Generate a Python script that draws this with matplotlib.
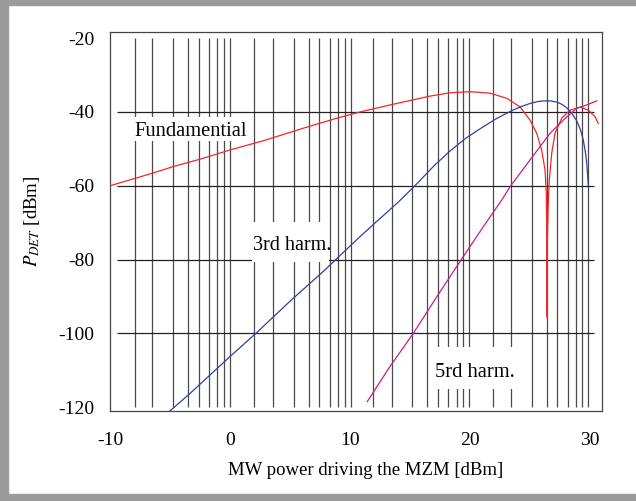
import matplotlib
matplotlib.use("Agg")
import matplotlib.pyplot as plt
from matplotlib.patches import Rectangle

plt.rcParams['font.family'] = ['Liberation Serif', 'DejaVu Serif']
plt.rcParams['mathtext.fontset'] = 'stix'

# MW drive power [dBm] and detected power [dBm] for each curve
fund_x = [-10.0, -6.67, -4.73, -2.5, 0.0, 2.78, 6.11, 8.89, 10.83, 13.33, 16.67,
          18.33, 20.0, 21.67, 23.06, 24.17, 25.0, 25.56, 25.97, 26.25, 26.36,
          26.40, 26.42, 26.45, 26.52, 26.61, 26.81, 27.08, 27.64, 28.33, 29.17,
          29.86, 30.42, 30.69]
fund_y = [-60.0, -56.8, -54.8, -52.8, -50.3, -47.8, -44.4, -41.7, -40.0, -38.1, -35.7,
          -34.8, -34.5, -34.9, -36.3, -38.6, -42.2, -45.8, -50.3, -55.7, -62.0,
          -75.0, -95.6, -75.0, -65.0, -58.4, -51.2, -45.8, -41.7, -39.5, -38.7,
          -39.5, -41.3, -43.1]

h3_x = [-5.06, -3.33, 0.0, 2.23, 5.0, 7.78, 10.83, 12.36, 14.0, 15.56, 17.0,
        18.33, 19.7, 21.11, 22.2, 23.33, 24.2, 25.0, 25.6, 26.11, 26.7, 27.23,
        27.7, 28.06, 28.5, 28.89, 29.2, 29.44, 29.62, 29.73, 29.86]
h3_y = [-121.2, -116.3, -106.3, -99.8, -91.3, -83.2, -73.8, -69.3, -64.5, -59.5, -54.6,
        -50.6, -47.0, -44.0, -41.8, -39.9, -38.6, -37.7, -37.2, -37.0, -37.0, -37.3,
        -38.0, -38.9, -40.4, -42.4, -44.8, -47.6, -51.0, -53.9, -59.8]

h5_x = [11.44, 13.33, 15.28, 17.23, 19.44, 21.11, 22.64, 23.33, 25.0, 26.67,
        27.78, 28.89, 29.73, 30.56]
h5_y = [-118.5, -109.0, -100.0, -90.1, -79.2, -71.1, -63.9, -60.3, -53.0, -45.8,
        -42.2, -39.0, -38.1, -37.0]

# vertical grid positions [dBm]
vgrid_x = [-7.94, -6.48, -4.73, -3.48, -2.58, -1.75, -1.06, -0.47, 0.0,
           2.0, 3.61, 5.36, 6.56, 7.42, 8.31, 8.97, 9.58, 10.08,
           11.94, 13.48, 15.19, 16.44, 17.36, 18.19, 18.94, 19.44, 19.92,
           21.94, 23.39, 25.14, 26.44, 27.28, 28.14, 28.83, 29.36, 29.86]
hgrid_y = [-40, -60, -80, -100]

x_ticks = [-10, 0, 10, 20, 30]
y_ticks = [-20, -40, -60, -80, -100, -120]

W, H = 636, 501
fig = plt.figure(figsize=(W / 100, H / 100), dpi=100)

# grey frame around the figure (left, top, bottom edges)
frame = '#9b9b9b'
fig.patches.append(Rectangle((0, 0), 7.5 / W, 1, transform=fig.transFigure,
                             color=frame, zorder=0))
fig.patches.append(Rectangle((0, 1 - 5 / H), 1, 5 / H, transform=fig.transFigure,
                             color=frame, zorder=0))
fig.patches.append(Rectangle((0, 0), 1, 7 / H, transform=fig.transFigure,
                             color=frame, zorder=0))

x0, x1 = -10.0, 31.02
px_per_db = 12.0
left = 110.0
right = left + (x1 - x0) * px_per_db
top, bottom = 31.7, 411.0
ax = fig.add_axes([left / W, 1 - bottom / H, (right - left) / W, (bottom - top) / H])
ax.set_xlim(x0, x1)
ax.set_ylim(-121.06, -18.24)

ax.vlines(vgrid_x, -120, -20, colors='#4a4a4a', lw=0.9, zorder=1)
ax.hlines(hgrid_y, -9.4, 30.35, colors='#222222', lw=0.9, zorder=1)

ax.plot(fund_x, fund_y, color='#f0282d', lw=0.9, zorder=3)
ax.plot(h3_x, h3_y, color='#33409a', lw=0.9, zorder=3)
ax.plot(h5_x, h5_y, color='#c81e8c', lw=0.9, zorder=3)

# white panels behind the curve labels
for (bx0, bx1, by0, by1) in [(-8.25, 1.67, -47.8, -41.3),
                             (1.83, 8.25, -80.6, -69.8),
                             (16.83, 24.0, -115.0, -103.7)]:
    ax.add_patch(Rectangle((bx0, by0), bx1 - bx0, by1 - by0, facecolor='white',
                           edgecolor='none', zorder=2))

ax.text(-7.92, -45.4, 'Fundamential', fontsize=14.8, ha='left', va='center', zorder=2.5)
ax.text(1.92, -76.3, '3rd harm.', fontsize=14.5, ha='left', va='center', zorder=2.5)
ax.text(17.08, -110.7, '5rd harm.', fontsize=14.8, ha='left', va='center', zorder=2.5)

ax.set_xticks(x_ticks)
ax.set_yticks(y_ticks)
ax.set_xticklabels([str(v) for v in x_ticks])
ax.set_yticklabels([str(v) for v in y_ticks])
ax.tick_params(axis='both', length=0, labelsize=14)
ax.tick_params(axis='x', pad=15)
ax.tick_params(axis='y', pad=11)

for s in ax.spines.values():
    s.set_color('#444444')
    s.set_linewidth(0.9)

ax.set_xlabel('MW power driving the MZM [dBm]', fontsize=13.5)
ax.xaxis.set_label_coords((365.5 - left) / (right - left), -0.135)
ax.set_ylabel('$P_{DET}$ [dBm]', fontsize=13.5, labelpad=12)

fig.savefig('out.png', dpi=100)
